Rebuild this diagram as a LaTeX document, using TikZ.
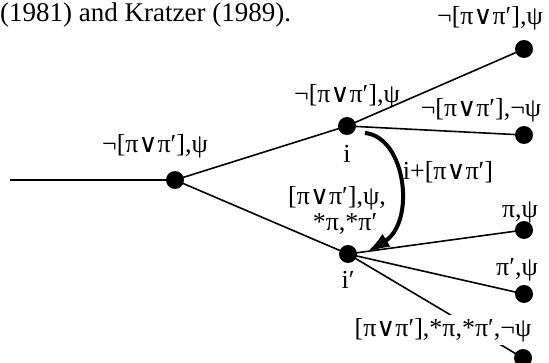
\documentclass[tikz,border=0pt]{standalone}
\usepackage{fontspec}
\setmainfont{Liberation Serif}
\newfontfamily\symf{DejaVu Sans}
\usetikzlibrary{arrows.meta}
\newcommand{\orop}{{\symf ∨}}
\newcommand{\pv}{[π\orop π′]}
\begin{document}
\begin{tikzpicture}[x=1pt,y=1pt,
  dot/.style={circle,fill=black,minimum size=18pt,inner sep=0pt},
  edge/.style={line width=1.6pt},
  lab/.style={font=\fontsize{26}{28}\selectfont,inner sep=1pt},
  ]
\useasboundingbox (0,0) rectangle (549,362);
\node[anchor=base west,font=\fontsize{27}{30}\selectfont,inner sep=0pt] (cap) at (0,340) {(1981) and Kratzer (1989).};
\coordinate (s) at (10,182);
\node[dot] (A) at (175,182) {};
\node[dot] (i) at (347,236) {};
\node[dot] (ip) at (348,108) {};
\node[dot] (t1) at (524,313) {};
\node[dot] (t2) at (524,227) {};
\node[dot] (t3) at (524,132) {};
\node[dot] (t4) at (524,68) {};
\node[dot] (t5) at (523,4) {};
\draw[edge] (s) -- (A.center);
\draw[edge] (A.center) -- (i.center);
\draw[edge] (A.center) -- (ip.center);
\draw[edge] (i.center) -- (t1.center);
\draw[edge] (i.center) -- (t2.center);
\draw[edge] (ip.center) -- (t3.center);
\draw[edge] (ip.center) -- (t4.center);
\draw[edge] (ip.center) -- (t5.center);
\coordinate (as) at (365,229);
\coordinate (ae) at (366,109);
\draw[line width=4pt,-{Latex[length=24pt,width=15pt]}] (as) .. controls (406,225) and (416,140) .. (ae);
\node[lab] (lA) at (155,216) {¬\pv,ψ};
\node[lab] (li) at (347,266) {¬\pv,ψ};
\node[lab] (l1) at (490,344) {¬\pv,ψ};
\node[lab] (l2) at (481,252) {¬\pv,¬ψ};
\node[lab] (ni) at (347,208) {i};
\node[lab] (la) at (448,190) {i+\pv};
\node[lab,align=center,font=\fontsize{26}{26}\selectfont] (lb) at (337,152) {\pv,ψ,\\\hspace*{16pt}*π,*π′};
\node[lab] (l3) at (520,150) {π,ψ};
\node[lab] (l4) at (517,92) {π′,ψ};
\node[lab] (nip) at (348,82) {i′};
\node[lab,fill=white,inner sep=3pt] (l5) at (443,32) {\pv,*π,*π′,¬ψ};
\end{tikzpicture}
\end{document}
